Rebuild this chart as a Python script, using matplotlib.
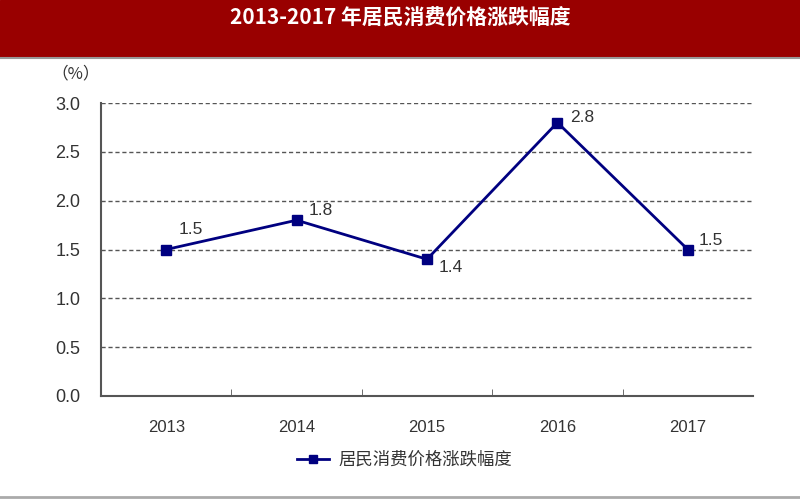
import matplotlib.pyplot as plt
from matplotlib.patches import Rectangle
from matplotlib.lines import Line2D

plt.rcParams['font.family'] = ['Liberation Sans', 'Noto Sans CJK SC', 'DejaVu Sans']

# dados
anos = ['2013', '2014', '2015', '2016', '2017']
valores = [1.5, 1.8, 1.4, 2.8, 1.5]
serie = '居民消费价格涨跌幅度'
titulo = '2013-2017 年居民消费价格涨跌幅度'

# deslocamento dos rótulos (pixels, y para cima)
offsets_px = [(12, 20), (12, 10), (12, -8), (13, 5), (11, 9)]

fig = plt.figure(figsize=(8, 5), dpi=100)

# faixa do título
fig.patches.append(Rectangle((0, 1 - 57 / 500), 1, 57 / 500, transform=fig.transFigure,
                             color='#990000', zorder=0))
fig.lines.append(Line2D([0, 1], [1 - 58 / 500] * 2, transform=fig.transFigure,
                        color='#999999', lw=1.5))
fig.lines.append(Line2D([0, 1], [3 / 500] * 2, transform=fig.transFigure,
                        color='#aaaaaa', lw=2))
fig.text(0.5, 1 - 18 / 500, titulo, color='white', fontsize=15, fontweight='bold',
         ha='center', va='center', family=['Noto Sans CJK SC', 'DejaVu Sans'])

ax = fig.add_axes([101 / 800, 1 - 396 / 500, 652 / 800, 293 / 500])
x = list(range(len(anos)))
ax.plot(x, valores, color='#000080', lw=2, marker='s', markersize=6.5, label=serie, zorder=3)

for xi, v, (dx, dy) in zip(x, valores, offsets_px):
    ax.annotate(f'{v:.1f}', (xi, v), xytext=(dx * 0.72, dy * 0.72), textcoords='offset points',
                fontsize=12.5, color='#333333', ha='left', va='center')

ax.set_xlim(-0.5, 4.5)
ax.set_ylim(0, 3.0)
ax.set_yticks([0, 0.5, 1.0, 1.5, 2.0, 2.5, 3.0])
ax.set_yticklabels([f'{t:.1f}' for t in ax.get_yticks()], fontsize=13, color='#333333')
ax.set_xticks(x)
ax.set_xticklabels(anos, fontsize=12, color='#333333')
ax.tick_params(axis='x', length=0, pad=17)
ax.set_xticks([0.5, 1.5, 2.5, 3.5], minor=True)
ax.tick_params(axis='x', which='minor', direction='in', length=5, color='#555555')
ax.tick_params(axis='y', length=0, pad=15)

for val in [0.5, 1.0, 1.5, 2.0, 2.5, 3.0]:
    ax.axhline(val, color='#555555', lw=1, ls=(0, (3, 2)), zorder=1)

ax.spines['top'].set_visible(False)
ax.spines['right'].set_visible(False)
ax.spines['left'].set_color('#555555')
ax.spines['bottom'].set_color('#555555')
ax.spines['left'].set_linewidth(1.5)
ax.spines['bottom'].set_linewidth(1.5)

fig.text(76 / 800, 1 - 74 / 500, '（%）', fontsize=12, color='#333333', ha='center', va='center',
         family=['Noto Sans CJK SC', 'DejaVu Sans'])

leg = ax.legend(loc='center', bbox_to_anchor=(405 / 800, 1 - 460 / 500),
                bbox_transform=fig.transFigure, frameon=False, handlelength=1.8,
                handletextpad=0.6, markerscale=0.8,
                prop={'family': ['Noto Sans CJK SC', 'DejaVu Sans'], 'size': 12.5})
for t in leg.get_texts():
    t.set_color('#333333')

fig.savefig('out.png', dpi=100)
